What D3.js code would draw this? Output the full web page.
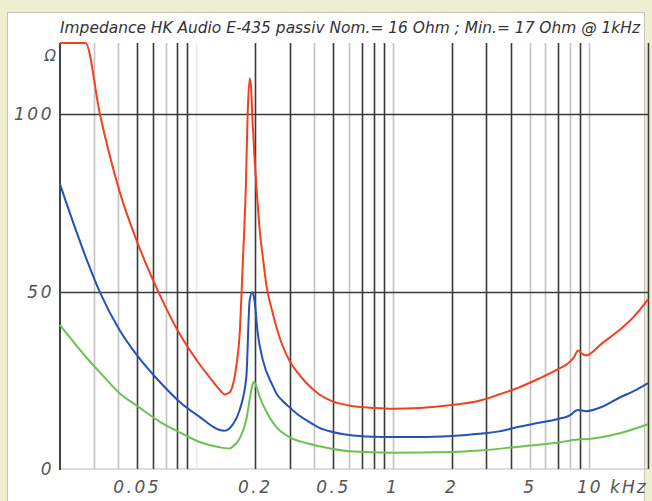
<!DOCTYPE html>
<html><head><meta charset="utf-8">
<script src="https://cdn.jsdelivr.net/npm/d3@7"></script>
<style>
html,body{margin:0;padding:0;background:#eeeed2;}
svg{display:block;}
</style></head>
<body>
<script>
// ---- data (frequency in kHz, impedance in Ohm) ----
const title = "Impedance HK Audio E-435 passiv Nom.= 16 Ohm ; Min.= 17 Ohm @ 1kHz";
const yTicks = [0, 50, 100];
const xLabels = [0.05, 0.2, 0.5, 1, 2, 5];
const gridDark = [0.05, 0.06, 0.08, 0.09, 0.2, 0.3, 0.5, 0.7, 0.8, 0.9, 2, 3, 4, 7, 9, 20];
const gridLight = [0.03, 0.04, 0.07, 0.4, 0.6, 1, 5, 6, 8, 10];
const gridFaint = [0.1];

const redFreq = [0.0202,0.0273,0.0323,0.0408,0.05,0.0653,0.0824,0.104,0.121,0.1317,0.1396,0.148,0.1533,0.16,0.1664,0.1723,0.179,0.1828,0.1871,0.19,0.1931,0.198,0.206,0.21,0.2186,0.2274,0.245,0.256,0.274,0.3,0.33,0.363,0.424,0.488,0.6,0.808,1.0,1.37,2.0,2.76,3.49,4.41,5.58,6.88,7.93,8.4,8.8,9.2,9.66,11.66,14.2,17,20];
const redOhm  = [120,120,100,78,64,49,38,29.5,24.8,22.3,21.0,21.6,23.5,29,38,57,80,100,110,108,99,88,74,68,59.5,52,44,40,35,30.3,27,24.3,21,19.2,17.9,17.2,17,17.2,18,19.2,21,23,25.5,28,30,31.5,33.4,32.5,32,35.4,39,43,47.8];

const blueFreq = [0.0202,0.0278,0.0323,0.0408,0.05,0.0653,0.0824,0.104,0.1317,0.1396,0.148,0.1533,0.1664,0.18,0.1871,0.1931,0.198,0.206,0.2186,0.245,0.256,0.274,0.3,0.33,0.363,0.424,0.488,0.6,0.808,1.0,1.37,2.0,2.76,3.49,4.41,5.58,6.88,7.93,8.8,9.66,11.66,14.2,17,20];
const blueOhm  = [80.3,58.7,49.8,39,32,24.5,18.9,14.7,11,10.8,11.5,12.5,16.6,26,47.5,49.8,47.5,38,30.6,23.5,21.3,19.3,17.3,15.3,13.8,11.6,10.5,9.6,9.1,9,9,9.3,9.9,10.6,11.9,13,14,15,16.6,16.3,17.5,20,22,24.2];

const greenFreq = [0.0202,0.0278,0.0323,0.0408,0.05,0.0653,0.0824,0.104,0.1317,0.148,0.1533,0.1664,0.1723,0.18,0.1871,0.193,0.197,0.203,0.21,0.2274,0.245,0.256,0.3,0.363,0.424,0.6,1.0,2.0,2.76,4.41,6.88,8.8,9.66,14.2,20];
const greenOhm  = [40.6,31.2,27.2,21.3,17.8,13.3,10.3,7.6,6.1,5.8,6.3,8.6,10.5,14,19.5,23.5,24.6,23,20.5,16.2,13.2,11.8,8.9,7.3,6.4,5.0,4.6,4.8,5.2,6.3,7.4,8.3,8.4,10,12.6];

const series = [
  {f: redFreq, v: redOhm, color: "#f3401e"},
  {f: blueFreq, v: blueOhm, color: "#2452b8"},
  {f: greenFreq, v: greenOhm, color: "#6cc24f"}
];

// ---- drawing ----
const W = 652, H = 501;
const svg = d3.select("body").append("svg").attr("width", W).attr("height", H);

svg.append("rect").attr("width", W).attr("height", H).attr("fill", "#eeeed2");
svg.append("rect").attr("x", 7.5).attr("y", 12.5).attr("width", 637).attr("height", 495)
  .attr("fill", "#ffffff").attr("stroke", "#c4c4b4").attr("stroke-width", 1);

const x = d3.scaleLog().domain([0.02, 20]).range([59, 648]);
const y = d3.scaleLinear().domain([0, 120]).range([469, 43]);

const g = svg.append("g");

// bottom line
g.append("line").attr("x1", x(0.02)).attr("x2", x(20)).attr("y1", y(0)).attr("y2", y(0))
  .attr("stroke", "#cfcfcf").attr("stroke-width", 1.5);

function vlines(arr, color, w) {
  g.selectAll(null).data(arr).enter().append("line")
    .attr("x1", d => Math.round(x(d)) + 0.5).attr("x2", d => Math.round(x(d)) + 0.5)
    .attr("y1", y(120)).attr("y2", y(0))
    .attr("stroke", color).attr("stroke-width", w);
}
vlines(gridFaint, "#ececec", 1.5);
vlines(gridLight, "#c2c2c2", 1.6);
vlines(gridDark, "#3a3a3a", 1.6);

// horizontal grid
g.selectAll(null).data(yTicks.filter(d => d > 0)).enter().append("line")
  .attr("x1", x(0.02)).attr("x2", x(20))
  .attr("y1", d => Math.round(y(d)) + 0.5).attr("y2", d => Math.round(y(d)) + 0.5)
  .attr("stroke", "#3a3a3a").attr("stroke-width", 1.6);

// left axis line
g.append("line").attr("x1", 60).attr("x2", 60).attr("y1", y(120)).attr("y2", y(0) + 1)
  .attr("stroke", "#444").attr("stroke-width", 2);

// curves
const line = d3.line().x(d => x(d[0])).y(d => y(d[1])).curve(d3.curveMonotoneX);
series.forEach(s => {
  const pts = s.f.map((f, i) => [f, s.v[i]]);
  g.append("path").attr("d", line(pts)).attr("fill", "none")
    .attr("stroke", s.color).attr("stroke-width", 2).attr("stroke-linejoin", "round");
});

const font = "'DejaVu Sans', sans-serif";
// y labels
svg.selectAll(null).data(yTicks).enter().append("text")
  .attr("x", 54).attr("y", d => y(d) + 6)
  .attr("text-anchor", "end")
  .attr("font-family", font).attr("font-style", "italic").attr("font-size", 17)
  .attr("letter-spacing", 2.5).attr("fill", "#555")
  .text(d => d);
svg.append("text").attr("x", 56).attr("y", 61).attr("text-anchor", "end")
  .attr("font-family", font).attr("font-style", "italic").attr("font-size", 15)
  .attr("fill", "#555").text("Ω");

// x labels
svg.selectAll(null).data(xLabels).enter().append("text")
  .attr("x", d => x(d)).attr("y", 493)
  .attr("text-anchor", "middle")
  .attr("font-family", font).attr("font-style", "italic").attr("font-size", 17)
  .attr("letter-spacing", 2.5).attr("fill", "#555")
  .text(d => String(d));
svg.append("text").attr("x", 577).attr("y", 493)
  .attr("font-family", font).attr("font-style", "italic").attr("font-size", 17)
  .attr("letter-spacing", 2).attr("fill", "#555").text("10 kHz");

// title
svg.append("text").attr("x", 60).attr("y", 33)
  .attr("font-family", "'Liberation Sans Narrow', 'DejaVu Sans Condensed', sans-serif")
  .attr("font-style", "italic").attr("font-size", 15).attr("fill", "#333")
  .attr("textLength", 580).attr("lengthAdjust", "spacingAndGlyphs")
  .text(title);
</script>
</body></html>
